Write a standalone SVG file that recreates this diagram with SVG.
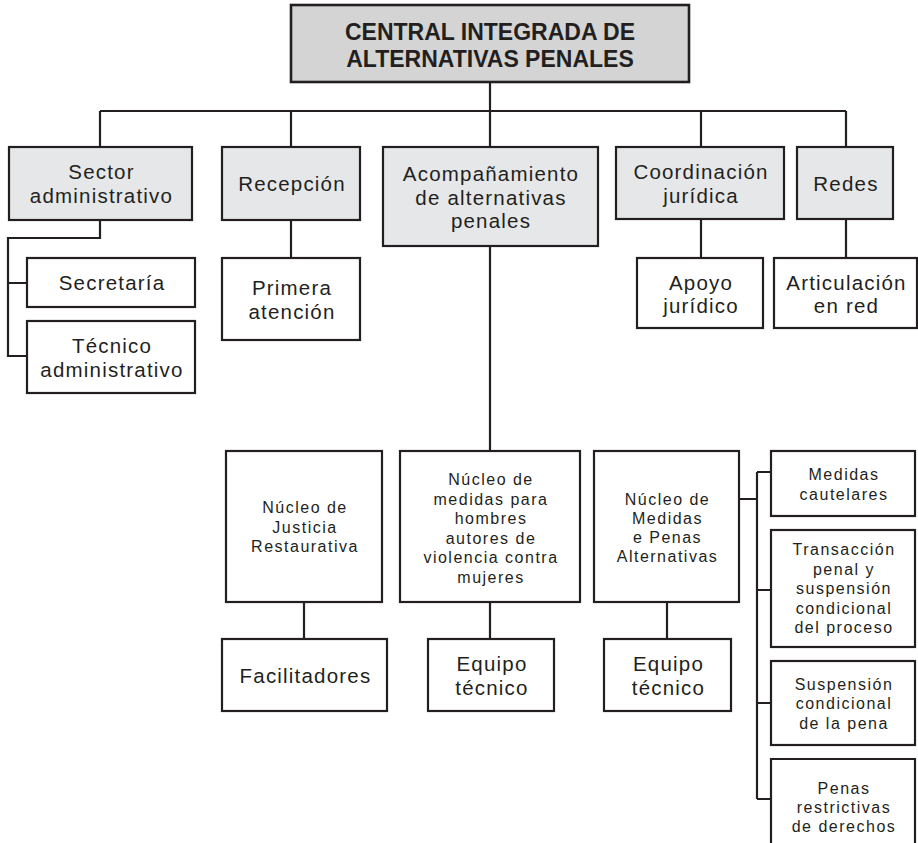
<svg xmlns="http://www.w3.org/2000/svg" width="918" height="843" viewBox="0 0 918 843">
<style>
.box{fill:#ffffff;stroke:#231f20;stroke-width:2.2}
.g1{fill:#e6e7e8}
.g0{fill:#d4d4d4;stroke-width:2.6}
.c{fill:none;stroke:#231f20;stroke-width:2.2}
text{fill:#231f20;text-anchor:middle}
.t0{font-family:"Liberation Sans",Arial,sans-serif;font-weight:bold;font-size:23px}
.tb{font-family:"Liberation Sans",Arial,sans-serif;font-size:20.5px;letter-spacing:1.2px}
.ts{font-family:"Liberation Sans",Arial,sans-serif;font-size:16px;letter-spacing:1.5px}
</style>
<rect width="918" height="843" fill="#ffffff"/>
<g id="connectors">
<path class="c" d="M490 82V111M100 111H846M100 111V147M291 111V147M490 111V147M701 111V147M846 111V147"/>
<path class="c" d="M100 220V238H8V356H27M8 283H27"/>
<path class="c" d="M291 220V258M701 219V258M846 219V258"/>
<path class="c" d="M490 246V451"/>
<path class="c" d="M304 602V639M490 602V639M667 602V639"/>
<path class="c" d="M739 499H757M757 472V799M757 472H771M757 590H771M757 703H771M757 799H771"/>
</g>
<g id="central">
<rect class="box g0" x="291" y="5" width="398" height="77"/>
<text class="t0" x="490" y="39.5">CENTRAL INTEGRADA DE</text>
<text class="t0" x="490" y="66.5">ALTERNATIVAS PENALES</text>
</g>
<g id="sector">
<rect class="box g1" x="9" y="147" width="183" height="73"/>
<text class="tb" x="101.5" y="179">Sector</text>
<text class="tb" x="101.5" y="202.5">administrativo</text>
</g>
<g id="secretaria">
<rect class="box" x="27" y="258" width="168" height="49"/>
<text class="tb" x="112" y="290">Secretaría</text>
</g>
<g id="tecnico-admin">
<rect class="box" x="27" y="321" width="168" height="72"/>
<text class="tb" x="112" y="353">Técnico</text>
<text class="tb" x="112" y="376.5">administrativo</text>
</g>
<g id="recepcion">
<rect class="box g1" x="222" y="147" width="138" height="73"/>
<text class="tb" x="292" y="191">Recepción</text>
</g>
<g id="primera-atencion">
<rect class="box" x="222" y="258" width="138" height="82"/>
<text class="tb" x="292" y="295">Primera</text>
<text class="tb" x="292" y="318.5">atención</text>
</g>
<g id="acompanamiento">
<rect class="box g1" x="383" y="147" width="215" height="99"/>
<text class="tb" x="491" y="181">Acompañamiento</text>
<text class="tb" x="491" y="204.5">de alternativas</text>
<text class="tb" x="491" y="228">penales</text>
</g>
<g id="coordinacion">
<rect class="box g1" x="616" y="147" width="168" height="72"/>
<text class="tb" x="701" y="179">Coordinación</text>
<text class="tb" x="701" y="202.5">jurídica</text>
</g>
<g id="apoyo">
<rect class="box" x="637" y="258" width="126" height="70"/>
<text class="tb" x="701" y="289.5">Apoyo</text>
<text class="tb" x="701" y="312.5">jurídico</text>
</g>
<g id="redes">
<rect class="box g1" x="797" y="147" width="96" height="72"/>
<text class="tb" x="846" y="190.5">Redes</text>
</g>
<g id="articulacion">
<rect class="box" x="774" y="258" width="143" height="70"/>
<text class="tb" x="846.5" y="289.5">Articulación</text>
<text class="tb" x="846.5" y="312.5">en red</text>
</g>
<g id="justicia-restaurativa">
<rect class="box" x="226" y="451" width="156" height="151"/>
<text class="ts" x="305" y="513">Núcleo de</text>
<text class="ts" x="305" y="532.5">Justicia</text>
<text class="ts" x="305" y="552">Restaurativa</text>
</g>
<g id="facilitadores">
<rect class="box" x="222" y="639" width="165" height="72"/>
<text class="tb" x="305.5" y="682.5">Facilitadores</text>
</g>
<g id="nucleo-hombres">
<rect class="box" x="400" y="451" width="180" height="151"/>
<text class="ts" x="491" y="485">Núcleo de</text>
<text class="ts" x="491" y="504.5">medidas para</text>
<text class="ts" x="491" y="524">hombres</text>
<text class="ts" x="491" y="543.5">autores de</text>
<text class="ts" x="491" y="563">violencia contra</text>
<text class="ts" x="491" y="582.5">mujeres</text>
</g>
<g id="equipo-1">
<rect class="box" x="428" y="639" width="126" height="72"/>
<text class="tb" x="492" y="671">Equipo</text>
<text class="tb" x="492" y="694.5">técnico</text>
</g>
<g id="nucleo-medidas">
<rect class="box" x="594" y="451" width="145" height="151"/>
<text class="ts" x="667.5" y="504.5">Núcleo de</text>
<text class="ts" x="667.5" y="523.5">Medidas</text>
<text class="ts" x="667.5" y="542.5">e Penas</text>
<text class="ts" x="667.5" y="561.5">Alternativas</text>
</g>
<g id="equipo-2">
<rect class="box" x="604" y="639" width="127" height="72"/>
<text class="tb" x="668.5" y="671">Equipo</text>
<text class="tb" x="668.5" y="694.5">técnico</text>
</g>
<g id="medidas-cautelares">
<rect class="box" x="771" y="451" width="144" height="65"/>
<text class="ts" x="844" y="480">Medidas</text>
<text class="ts" x="844" y="499.5">cautelares</text>
</g>
<g id="transaccion">
<rect class="box" x="771" y="530" width="144" height="117"/>
<text class="ts" x="844" y="555">Transacción</text>
<text class="ts" x="844" y="574.5">penal y</text>
<text class="ts" x="844" y="594">suspensión</text>
<text class="ts" x="844" y="613.5">condicional</text>
<text class="ts" x="844" y="633">del proceso</text>
</g>
<g id="suspension">
<rect class="box" x="771" y="661" width="144" height="84"/>
<text class="ts" x="844" y="689.5">Suspensión</text>
<text class="ts" x="844" y="709">condicional</text>
<text class="ts" x="844" y="728.5">de la pena</text>
</g>
<g id="penas">
<path class="c" d="M771 845V759H915V845"/>
<text class="ts" x="844" y="794">Penas</text>
<text class="ts" x="844" y="813">restrictivas</text>
<text class="ts" x="844" y="832">de derechos</text>
</g>
</svg>
